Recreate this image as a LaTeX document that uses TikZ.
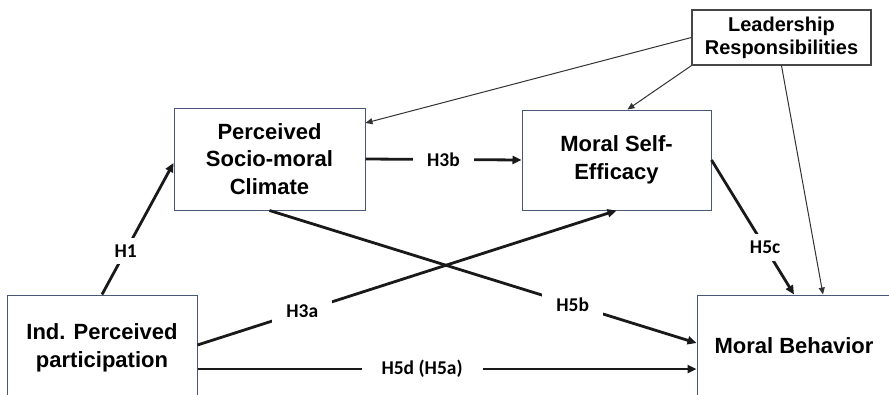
\documentclass[tikz,border=0pt]{standalone}
\usepackage{fontspec}
\setmainfont{Liberation Sans}
\newfontfamily\lblfont{Carlito}
\usetikzlibrary{arrows.meta}
\definecolor{boxline}{RGB}{72,88,118}
\definecolor{leadline}{RGB}{70,70,70}

\begin{document}
\begin{tikzpicture}[x=1pt, y=-1pt,
	box/.style={rectangle, draw=boxline, line width=1pt, align=center, inner sep=0pt, font=\fontsize{22}{27.5}\selectfont\bfseries},
	lead/.style={rectangle, draw=leadline, line width=1.4pt, align=center, inner sep=0pt, minimum width=179pt, minimum height=55pt, font=\fontsize{20}{23}\selectfont\bfseries},
	hyp/.style={line width=2.8pt, draw=black!90, -{Triangle[length=9pt, width=8pt]}},
	infl/.style={line width=1pt, draw=black!80, -{Triangle[length=7pt, width=6pt]}},
	lbl/.style={fill=white, inner xsep=14pt, inner ysep=7pt, font=\lblfont\fontsize{19.5}{19.5}\selectfont\bfseries}]

	\clip (0,0) rectangle (889,394);
	\fill[white] (0,0) rectangle (889,394);

	\node[box, minimum width=190pt, minimum height=106pt] (ind) at (102, 348) {Ind. Perceived\\participation};
	\node[box, minimum width=191pt, minimum height=102pt] (climate) at (269.5, 159) {Perceived\\Socio-moral\\Climate};
	\node[box, minimum width=189pt, minimum height=100pt] (efficacy) at (616.5, 160) {Moral Self-\\Efficacy};
	\node[box, minimum width=194pt, minimum height=102pt] (behavior) at (794, 346) {Moral Behavior};
	\node[lead] (leader) at (781.5, 37.5) {Leadership\\Responsibilities};

	\draw[hyp] (ind.north) -- node[lbl, pos=0.33] {H1} ([yshift=-4pt]climate.west);
	\draw[hyp] (climate.east) -- node[lbl] {H3b} (efficacy.west);
	\draw[hyp] ([yshift=3pt]ind.east) -- node[lbl, pos=0.25] {H3a} (efficacy.south);
	\draw[hyp] (climate.south) -- node[lbl, pos=0.71] {H5b} ([yshift=3pt]behavior.west);
	\draw[hyp] ([yshift=-21pt]ind.east) -- node[lbl, pos=0.45, inner xsep=20pt] {H5d (H5a)} ([yshift=-23pt]behavior.west);
	\draw[hyp] (efficacy.east) -- node[lbl, pos=0.65] {H5c} (behavior.north);

	\draw[infl] (leader.west) -- ([yshift=36pt]climate.east);
	\draw[infl] (leader.south west) -- ([xshift=11pt]efficacy.north);
	\draw[infl] (leader.south) -- ([xshift=29pt]behavior.north);
\end{tikzpicture}
\end{document}
